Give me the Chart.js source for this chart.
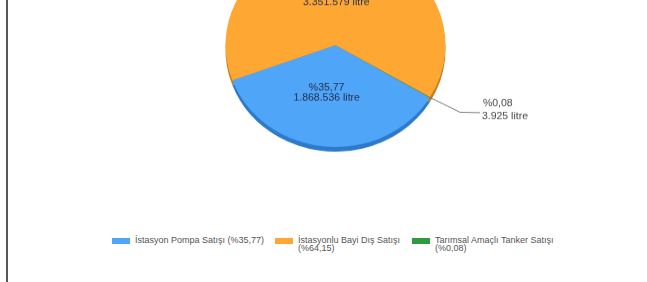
<!DOCTYPE html>
<html><head><meta charset="utf-8">
<script src="https://cdn.jsdelivr.net/npm/chart.js@4.4.1/dist/chart.umd.min.js"></script>
<style>
html,body{margin:0;padding:0;background:#fff;}
#page{position:relative;width:647px;height:282px;overflow:hidden;background:#fff;font-family:"Liberation Sans",Arial,sans-serif;}
#edge{position:absolute;left:6px;top:0;width:2px;height:282px;background:#575757;}
#pieWrap{position:absolute;left:0;top:-94px;width:647px;height:300px;transform:scaleY(0.927);transform-origin:0 0;}
#legend{position:absolute;top:236px;left:112px;display:flex;align-items:flex-start;font-size:9px;line-height:8px;color:#555;}
.item{display:flex;align-items:flex-start;}
.box{width:18px;height:6px;margin-top:2px;margin-right:5px;flex:none;}
.item:nth-child(1){margin-right:11px;}
.item:nth-child(2){margin-right:8px;}
.item:nth-child(2) .txt{max-width:106px;}
.item:nth-child(3) .txt{max-width:130px;}
</style></head>
<body>
<div id="page">
  <div id="edge"></div>
  <div id="pieWrap"><canvas id="c"></canvas></div>
  <div id="legend"></div>
</div>
<script>
const categories = ["İstasyon Pompa Satışı", "İstasyonlu Bayi Dış Satışı", "Tarımsal Amaçlı Tanker Satışı"];
const volumes = [1868536, 3351579, 3925];
const percents = [35.77, 64.15, 0.08];
const unit = "litre";
const colors = ["#4fa5f8", "#ffa733", "#2e9b3d"];
const sideColors = ["#2d79cc", "#c47c1f", "#1f6e2a"];

function fmtPct(p){ return p.toFixed(2).replace('.', ','); }
function fmtNum(v){ return String(v).replace(/\B(?=(\d{3})+(?!\d))/g, '.'); }

const side3d = {
  id: 'side3d',
  beforeDatasetsDraw(chart){
    const ctx = chart.ctx, meta = chart.getDatasetMeta(0);
    meta.data.forEach((arc, i) => {
      const p = arc.getProps(['x','y','startAngle','endAngle','outerRadius'], true);
      ctx.save();
      ctx.fillStyle = sideColors[i];
      ctx.beginPath();
      ctx.moveTo(p.x, p.y + 5);
      ctx.arc(p.x, p.y + 5, p.outerRadius, p.startAngle, p.endAngle);
      ctx.closePath();
      ctx.fill();
      ctx.restore();
    });
  }
};

const sliceLabels = {
  id: 'sliceLabels',
  afterDatasetsDraw(chart){
    const ctx = chart.ctx, meta = chart.getDatasetMeta(0);
    meta.data.forEach((arc, i) => {
      const p = arc.getProps(['x','y','startAngle','endAngle','outerRadius'], true);
      const mid = (p.startAngle + p.endAngle) / 2;
      const lines = ['%' + fmtPct(percents[i]), fmtNum(volumes[i]) + ' ' + unit];
      ctx.save();
      ctx.font = '10.5px "Liberation Sans", Arial, sans-serif';
      ctx.textBaseline = 'middle';
      if (percents[i] > 5) {
        const r = p.outerRadius * 0.47;
        const cx = p.x + Math.cos(mid) * r - 4, cy = p.y + Math.sin(mid) * r;
        ctx.fillStyle = '#22304c';
        ctx.textAlign = 'center';
        ctx.fillText(lines[0], cx, cy - 5.8);
        ctx.fillText(lines[1], cx, cy + 5.8);
      } else {
        const ex = p.x + Math.cos(mid) * p.outerRadius, ey = p.y + Math.sin(mid) * p.outerRadius;
        const kx = ex + 30, ky = ey + 16, hx = kx + 20;
        ctx.strokeStyle = '#666';
        ctx.lineWidth = 0.9;
        ctx.beginPath();
        ctx.moveTo(ex, ey); ctx.lineTo(kx, ky); ctx.lineTo(hx, ky + 0.5);
        ctx.stroke();
        ctx.fillStyle = '#444';
        ctx.textAlign = 'left';
        ctx.fillText(lines[0], hx + 3, ky - 9.5);
        ctx.fillText(lines[1], hx + 2, ky + 4.5);
      }
      ctx.restore();
    });
  }
};

const chart = new Chart(document.getElementById('c'), {
  type: 'pie',
  data: {
    labels: categories,
    datasets: [{ data: volumes, backgroundColor: colors, borderWidth: 0 }]
  },
  options: {
    responsive: true,
    maintainAspectRatio: false,
    animation: false,
    rotation: 121,
    layout: { padding: { left: 24, right: 0, top: 40, bottom: 40 } },
    plugins: { legend: { display: false }, tooltip: { enabled: false } }
  },
  plugins: [side3d, sliceLabels]
});

const legend = document.getElementById('legend');
categories.forEach((c, i) => {
  const item = document.createElement('div'); item.className = 'item';
  const box = document.createElement('div'); box.className = 'box'; box.style.background = colors[i];
  const txt = document.createElement('div'); txt.className = 'txt';
  txt.textContent = c + ' (%' + fmtPct(percents[i]) + ')';
  item.appendChild(box); item.appendChild(txt); legend.appendChild(item);
});
</script>
</body></html>
